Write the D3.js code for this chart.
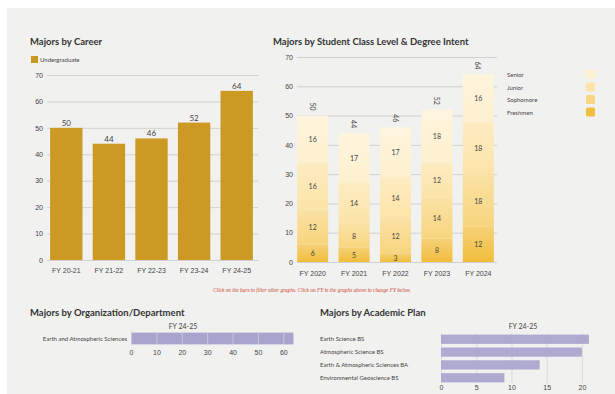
<!DOCTYPE html>
<html>
<head>
<meta charset="utf-8">
<script src="https://cdn.jsdelivr.net/npm/d3@7.9.0/dist/d3.min.js"></script>
<style>
  body { margin: 0; background: #fff; font-family: Lato, "Open Sans", sans-serif; }
  svg text { fill: #444; }
  .title { font-weight: 700; font-size: 9.5px; fill: #333; }
  .tick text { font-size: 7px; fill: #444; }
  .small { font-size: 6px; fill: #444; }
</style>
</head>
<body>
<svg id="chart" width="615" height="394"></svg>
<script>
// Majors by Career
const careerYears = ['FY 20-21', 'FY 21-22', 'FY 22-23', 'FY 23-24', 'FY 24-25'];
const undergrad = [50, 44, 46, 52, 64];

// Majors by Student Class Level
const classYears = ['FY 2020', 'FY 2021', 'FY 2022', 'FY 2023', 'FY 2024'];
const classLevels = ['Freshmen', 'Sophomore', 'Junior', 'Senior'];
const freshmen = [6, 5, 3, 8, 12];
const sophomore = [12, 8, 12, 14, 18];
const junior = [16, 14, 14, 12, 18];
const senior = [16, 17, 17, 18, 16];
const classColors = ['#f1bd3c', '#f8d57e', '#fce4a8', '#fdf0cf'];

// Org / Department, FY 24-25
const departments = ['Earth and Atmospheric Sciences'];
const deptValues = [64];

// Academic plan, FY 24-25
const plans = ['Earth Science BS', 'Atmospheric Science BS', 'Earth & Atmospheric Sciences BA', 'Environmental Geoscience BS'];
const planValues = [21, 20, 14, 9];

const svg = d3.select('#chart');
svg.append('rect').attr('x', 7).attr('y', 8).attr('width', 608).attr('height', 386).attr('fill', '#f1f1f0');

// ---------- left: majors by career ----------
{
  const x = d3.scaleBand().domain(careerYears).range([45, 258]).paddingInner(0.24).paddingOuter(0.12);
  const y = d3.scaleLinear().domain([0, 70]).range([260, 75]);
  const g = svg.append('g');
  g.append('text').attr('class', 'title').attr('x', 30).attr('y', 45).text('Majors by Career');
  g.append('rect').attr('x', 31).attr('y', 56).attr('width', 7).attr('height', 7).attr('fill', '#c9961f');
  g.append('text').attr('class', 'small').attr('x', 40).attr('y', 62).text('Undergraduate');

  const ya = g.append('g').attr('transform', 'translate(47,0)')
    .call(d3.axisLeft(y).tickValues(d3.range(0, 71, 10)).tickSize(-211).tickPadding(4));
  ya.select('.domain').remove();
  ya.selectAll('.tick line').attr('stroke', '#bbb').attr('stroke-width', 0.6);

  g.selectAll('rect.bar').data(undergrad).join('rect').attr('class', 'bar')
    .attr('x', (d, i) => x(careerYears[i])).attr('width', x.bandwidth())
    .attr('y', d => y(d)).attr('height', d => y(0) - y(d)).attr('fill', '#cc9a24');
  g.selectAll('text.val').data(undergrad).join('text').attr('class', 'val')
    .attr('x', (d, i) => x(careerYears[i]) + x.bandwidth() / 2).attr('y', d => y(d) - 2)
    .attr('text-anchor', 'middle').attr('font-size', 8).text(d => d);

  const xa = g.append('g').attr('transform', 'translate(0,262)').call(d3.axisBottom(x).tickSize(0).tickPadding(6));
  xa.select('.domain').remove();
}

// ---------- right: class level stacked ----------
{
  const x = d3.scaleBand().domain(classYears).range([293, 498]).paddingInner(0.25).paddingOuter(0.1);
  const y = d3.scaleLinear().domain([0, 70]).range([262, 57]);
  const g = svg.append('g');
  g.append('text').attr('class', 'title').attr('x', 273).attr('y', 45).text('Majors by Student Class Level & Degree Intent');

  const ya = g.append('g').attr('transform', 'translate(297,0)')
    .call(d3.axisLeft(y).tickValues(d3.range(0, 71, 10)).tickSize(-200).tickPadding(4));
  ya.select('.domain').remove();
  ya.selectAll('.tick line').attr('stroke', '#bbb').attr('stroke-width', 0.6);

  const rows = classYears.map((c, i) => ({
    year: c, Freshmen: freshmen[i], Sophomore: sophomore[i], Junior: junior[i], Senior: senior[i]
  }));
  const stacked = d3.stack().keys(classLevels)(rows);
  const color = d3.scaleOrdinal().domain(classLevels).range(classColors);

  const defs = svg.append('defs');
  classLevels.forEach((k, i) => {
    const gr = defs.append('linearGradient').attr('id', 'grad' + i).attr('x1', 0).attr('y1', 1).attr('x2', 0).attr('y2', 0);
    gr.append('stop').attr('offset', '0%').attr('stop-color', color(k));
    gr.append('stop').attr('offset', '100%').attr('stop-color', d3.interpolateRgb(color(k), '#fff')(0.3));
  });

  const layer = g.selectAll('g.layer').data(stacked).join('g').attr('class', 'layer');
  layer.selectAll('rect').data(d => d).join('rect')
    .attr('x', d => x(d.data.year)).attr('width', x.bandwidth())
    .attr('y', d => y(d[1])).attr('height', d => y(d[0]) - y(d[1]))
    .attr('fill', function() { return 'url(#grad' + classLevels.indexOf(d3.select(this.parentNode).datum().key) + ')'; });
  layer.selectAll('text').data(d => d).join('text')
    .attr('x', d => x(d.data.year) + x.bandwidth() / 2)
    .attr('y', d => y((d[0] + d[1]) / 2) + 3)
    .attr('text-anchor', 'middle').attr('font-size', 7).attr('fill', '#555')
    .text(d => d[1] - d[0]);

  // totals, rotated
  const totals = rows.map(r => classLevels.reduce((s, k) => s + r[k], 0));
  g.selectAll('text.tot').data(totals).join('text').attr('class', 'tot')
    .attr('transform', (d, i) => `translate(${x(classYears[i]) + x.bandwidth() / 2 - 3},${y(d) - 9}) rotate(90)`)
    .attr('text-anchor', 'middle').attr('font-size', 7).attr('fill', '#555').text(d => d);

  const xa = g.append('g').attr('transform', 'translate(0,265)').call(d3.axisBottom(x).tickSize(0).tickPadding(6));
  xa.select('.domain').remove();

  // legend
  const legendOrder = classLevels.slice().reverse();
  legendOrder.forEach((k, i) => {
    g.append('text').attr('class', 'small').attr('font-size', 6.8).attr('x', 507).attr('y', 77 + i * 12.5).text(k);
    g.append('rect').attr('x', 586).attr('y', 70 + i * 12.5).attr('width', 9).attr('height', 9).attr('rx', 1.5).attr('fill', color(k));
  });
}

// note
svg.append('text').attr('x', 312).attr('y', 292).attr('text-anchor', 'middle')
  .attr('font-family', '"Liberation Serif", serif').attr('font-style', 'italic').attr('font-size', 5.3)
  .style('fill', '#d0402f')
  .text('Click on the bars to filter other graphs. Click on FY in the graphs above to change FY below.');

// ---------- bottom left: department ----------
{
  const x = d3.scaleLinear().domain([0, 65]).range([131, 296]);
  const y = d3.scaleBand().domain(departments).range([332, 345]).padding(0.05);
  const g = svg.append('g');
  g.append('text').attr('class', 'title').attr('x', 30).attr('y', 316).text('Majors by Organization/Department');
  g.append('text').attr('x', 183).attr('y', 329).attr('text-anchor', 'middle').attr('font-size', 7).text('FY 24-25');
  g.selectAll('rect.bar').data(deptValues).join('rect').attr('class', 'bar')
    .attr('x', x(0)).attr('y', (d, i) => y(departments[i])).attr('height', y.bandwidth())
    .attr('width', d => x(d) - x(0)).attr('fill', '#a9a4cd');
  const xa = g.append('g').attr('transform', 'translate(0,345)')
    .call(d3.axisBottom(x).tickValues(d3.range(0, 61, 10)).tickSize(-14).tickPadding(5));
  xa.select('.domain').remove();
  xa.selectAll('.tick line').attr('stroke', '#ddd').attr('stroke-width', 0.6);
  g.selectAll('text.lab').data(departments).join('text').attr('class', 'lab small')
    .attr('x', 127).attr('y', d => y(d) + y.bandwidth() / 2 + 2).attr('text-anchor', 'end').text(d => d);
}

// ---------- bottom right: academic plan ----------
{
  const x = d3.scaleLinear().domain([0, 22]).range([441, 596]);
  const y = d3.scaleBand().domain(plans).range([334, 383]).paddingInner(0.28).paddingOuter(0.05);
  const g = svg.append('g');
  g.append('text').attr('class', 'title').attr('x', 320).attr('y', 316).text('Majors by Academic Plan');
  g.append('text').attr('x', 523).attr('y', 329).attr('text-anchor', 'middle').attr('font-size', 7).text('FY 24-25');
  const xa = g.append('g').attr('transform', 'translate(0,383)')
    .call(d3.axisBottom(x).tickValues(d3.range(0, 21, 5)).tickSize(-50).tickPadding(2));
  xa.select('.domain').remove();
  xa.selectAll('.tick line').attr('stroke', '#ccc').attr('stroke-width', 0.6);
  g.selectAll('rect.bar').data(planValues).join('rect').attr('class', 'bar')
    .attr('x', x(0)).attr('y', (d, i) => y(plans[i])).attr('height', y.bandwidth())
    .attr('width', d => x(d) - x(0)).attr('fill', '#a9a4cd').attr('fill-opacity', 0.92);
  g.selectAll('text.lab').data(plans).join('text').attr('class', 'lab small')
    .attr('x', 320).attr('y', d => y(d) + y.bandwidth() / 2 + 2).text(d => d);
}
</script>
</body>
</html>
